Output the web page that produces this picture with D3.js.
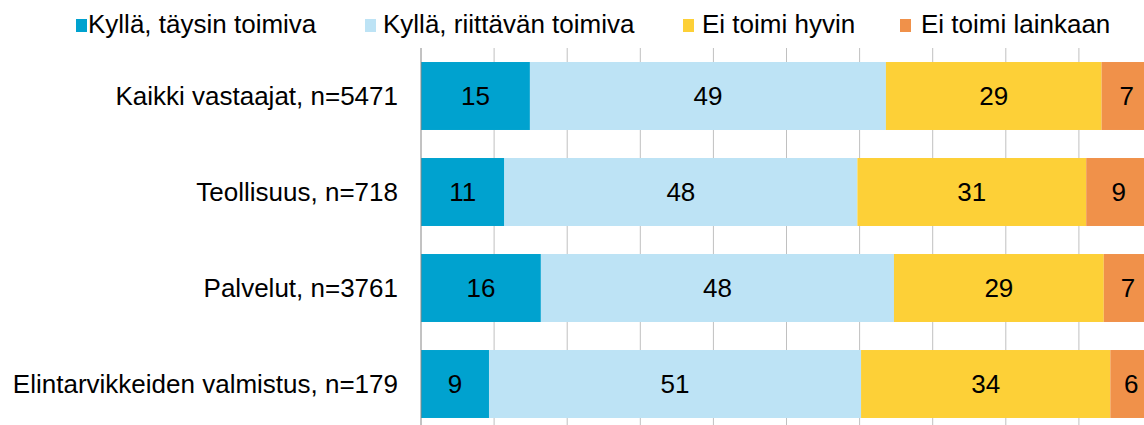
<!DOCTYPE html>
<html>
<head>
<meta charset="utf-8">
<script src="https://cdn.jsdelivr.net/npm/d3@7"></script>
<style>
  body { margin: 0; background: #fff; }
  text { font-family: "Liberation Sans", Arial, sans-serif; }
</style>
</head>
<body>
<div id="chart"></div>
<script>
var categories = ["Kaikki vastaajat, n=5471", "Teollisuus, n=718", "Palvelut, n=3761", "Elintarvikkeiden valmistus, n=179"];
var seriesNames = ["Kyllä, täysin toimiva", "Kyllä, riittävän toimiva", "Ei toimi hyvin", "Ei toimi lainkaan"];
var taysin = [14.9, 11.4, 16.4, 9.3];
var riittava = [48.7, 48.3, 48.3, 50.9];
var eiHyvin = [29.5, 31.3, 28.7, 34.1];
var eiLainkaan = [6.9, 8.9, 6.6, 5.7];
var labels = [[15, 49, 29, 7], [11, 48, 31, 9], [16, 48, 29, 7], [9, 51, 34, 6]];
var colors = ["#00a2cf", "#bde3f5", "#fdd037", "#f0914a"];

var svgWidth = 1144;
var svgHeight = 425;
var margin = {top: 48, left: 421};
var plotW = 731;
var plotH = 384;

var svg = d3.select("#chart")
    .append("svg")
    .attr("width", svgWidth)
    .attr("height", svgHeight);

var g = svg.append("g")
    .attr("transform", "translate(" + margin.left + "," + margin.top + ")");

var x = d3.scaleLinear().domain([0, 100]).range([0, plotW]);
var y = d3.scaleBand().domain(categories).range([0, plotH]).paddingInner(0.292).paddingOuter(0.146);

// gridlines
g.selectAll("line.grid")
    .data(d3.range(10, 101, 10))
    .enter()
    .append("line")
    .attr("class", "grid")
    .attr("x1", d => x(d))
    .attr("x2", d => x(d))
    .attr("y1", 0)
    .attr("y2", plotH)
    .attr("stroke", "#c0c0c0")
    .attr("stroke-width", 1);

var rows = categories.map(function(c, i) {
    return {cat: c, taysin: taysin[i], riittava: riittava[i], eiHyvin: eiHyvin[i], eiLainkaan: eiLainkaan[i]};
});
var keys = ["taysin", "riittava", "eiHyvin", "eiLainkaan"];
var stacked = d3.stack().keys(keys)(rows);

var layer = g.selectAll("g.layer")
    .data(stacked)
    .enter()
    .append("g")
    .attr("class", "layer")
    .attr("fill", (d, i) => colors[i]);

layer.selectAll("rect")
    .data(d => d)
    .enter()
    .append("rect")
    .attr("x", d => x(d[0]))
    .attr("y", d => y(d.data.cat))
    .attr("width", d => x(d[1]) - x(d[0]))
    .attr("height", y.bandwidth());

stacked.forEach(function(s, si) {
    g.selectAll("text.v" + si)
        .data(s)
        .enter()
        .append("text")
        .attr("x", d => (x(d[0]) + x(d[1])) / 2)
        .attr("y", d => y(d.data.cat) + y.bandwidth() / 2)
        .attr("dy", "0.36em")
        .attr("text-anchor", "middle")
        .style("font-size", "26px")
        .attr("fill", "#000")
        .text((d, i) => labels[i][si]);
});

// left axis line
g.append("line")
    .attr("x1", 0).attr("x2", 0)
    .attr("y1", 0).attr("y2", plotH)
    .attr("stroke", "#868686")
    .attr("stroke-width", 1);

// category labels
g.selectAll("text.cat")
    .data(categories)
    .enter()
    .append("text")
    .attr("class", "cat")
    .attr("x", -23)
    .attr("y", d => y(d) + y.bandwidth() / 2)
    .attr("dy", "0.36em")
    .attr("text-anchor", "end")
    .style("font-size", "26px")
    .attr("fill", "#000")
    .text(d => d);

// legend
var legendX = [76, 365, 683, 900];
var legend = svg.selectAll("g.legend")
    .data(seriesNames)
    .enter()
    .append("g")
    .attr("class", "legend")
    .attr("transform", (d, i) => "translate(" + legendX[i] + ",0)");

legend.append("rect")
    .attr("x", 0)
    .attr("y", 19)
    .attr("width", 11)
    .attr("height", 13)
    .attr("fill", (d, i) => colors[i]);

legend.append("text")
    .attr("x", (d, i) => [12, 18, 19, 21][i])
    .attr("y", 33)
    .style("font-size", "26px")
    .attr("fill", "#000")
    .text(d => d);
</script>
</body>
</html>
